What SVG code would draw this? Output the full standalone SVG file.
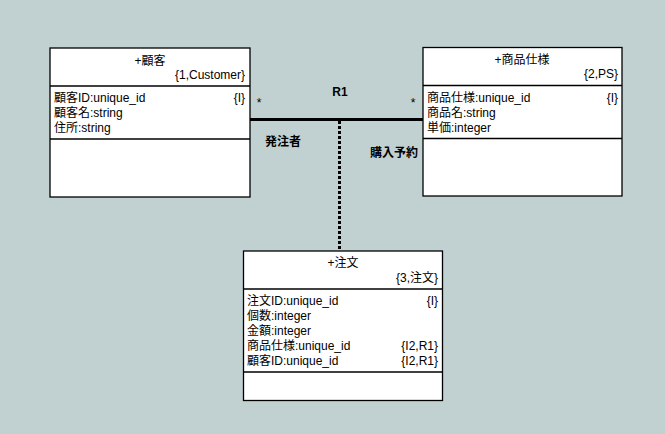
<svg xmlns="http://www.w3.org/2000/svg" width="665" height="434" viewBox="0 0 665 434">
<style>
text{font-family:"Liberation Sans","Noto Sans CJK JP",sans-serif;font-size:12px;fill:#000}
.box{fill:#fff;stroke:#000;stroke-width:1.3}
.div{stroke:#000;stroke-width:1.3}
.r{text-anchor:end}
.c{text-anchor:middle}
</style>
<rect width="665" height="434" fill="#c1d1d2"/>
<g id="connectors">
<line x1="250" y1="119.5" x2="423" y2="119.5" stroke="#000" stroke-width="3"/>
<line x1="339.5" y1="121" x2="339.5" y2="251" stroke="#000" stroke-width="3" stroke-dasharray="3,2"/>
<text x="340" y="96" class="c" font-weight="bold">R1</text>
<text x="259" y="107" class="c">*</text>
<text x="413" y="107" class="c">*</text>
<text x="265" y="146" font-weight="bold">発注者</text>
<text x="370" y="157" font-weight="bold">購入予約</text>
</g>
<g id="customer">
<rect class="box" x="50" y="48" width="200" height="149"/>
<line class="div" x1="50" y1="86" x2="250" y2="86"/>
<line class="div" x1="50" y1="139" x2="250" y2="139"/>
<text x="150" y="65" class="c">+顧客</text>
<text x="245" y="79" class="r">{1,Customer}</text>
<text x="54" y="102">顧客ID:unique_id</text>
<text x="245" y="102" class="r">{I}</text>
<text x="54" y="117">顧客名:string</text>
<text x="54" y="132">住所:string</text>
</g>
<g id="product">
<rect class="box" x="423" y="47.5" width="199" height="148.5"/>
<line class="div" x1="423" y1="85.5" x2="622" y2="85.5"/>
<line class="div" x1="423" y1="138.5" x2="622" y2="138.5"/>
<text x="522" y="64" class="c">+商品仕様</text>
<text x="618" y="78" class="r">{2,PS}</text>
<text x="427" y="101.5">商品仕様:unique_id</text>
<text x="618" y="101.5" class="r">{I}</text>
<text x="427" y="116.5">商品名:string</text>
<text x="427" y="131.5">単価:integer</text>
</g>
<g id="order">
<rect class="box" x="243.5" y="251" width="199" height="149.5"/>
<line class="div" x1="243.5" y1="289" x2="442.5" y2="289"/>
<line class="div" x1="243.5" y1="372" x2="442.5" y2="372"/>
<text x="343" y="267" class="c">+注文</text>
<text x="438" y="282" class="r">{3,注文}</text>
<text x="247" y="305">注文ID:unique_id</text>
<text x="438" y="305" class="r">{I}</text>
<text x="247" y="320">個数:integer</text>
<text x="247" y="335">金額:integer</text>
<text x="247" y="350">商品仕様:unique_id</text>
<text x="438" y="350" class="r">{I2,R1}</text>
<text x="247" y="365">顧客ID:unique_id</text>
<text x="438" y="365" class="r">{I2,R1}</text>
</g>
</svg>
